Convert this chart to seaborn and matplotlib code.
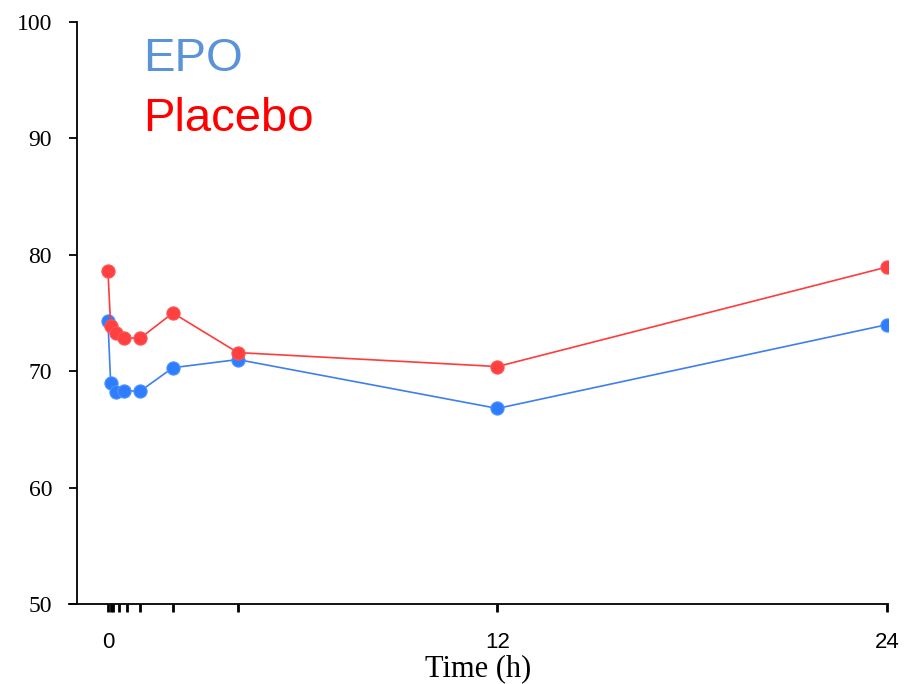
import matplotlib
matplotlib.use("Agg")
import matplotlib.pyplot as plt
import seaborn as sns
import pandas as pd

time_h = [0, 0.083, 0.25, 0.5, 1, 2, 4, 12, 24]
epo = [74.3, 69.0, 68.2, 68.3, 68.3, 70.3, 71.0, 66.8, 74.0]
placebo = [78.6, 73.9, 73.3, 72.85, 72.85, 75.0, 71.6, 70.4, 78.95]
groups = ["EPO", "Placebo"]
xticks = [0, 0.083, 0.167, 0.33, 0.58, 1, 2, 4, 12, 24]
xticklabels = ["0", "", "", "", "", "", "", "", "12", "24"]
yticks = [50, 60, 70, 80, 90, 100]

df = pd.DataFrame({
    "time": time_h * 2,
    "value": epo + placebo,
    "group": [groups[0]] * len(epo) + [groups[1]] * len(placebo),
})

sns.set_style("white")
fig = plt.figure(figsize=(9.14, 6.84), dpi=100)
ax = fig.add_axes([69 / 914, 1 - 604 / 684, (888 - 69) / 914, (604 - 22) / 684])

line_colors = {"EPO": "#3d7ff0", "Placebo": "#ff3b3b"}
sns.lineplot(data=df, x="time", y="value", hue="group", palette=line_colors,
             marker="o", markersize=9.5, markeredgewidth=0.8,
             linewidth=1.2, legend=False, ax=ax, sort=False)
for ln, mc, ec in zip(ax.lines, ["#2f7dff", "#ff4040"], ["#4d94ff", "#ff5555"]):
    ln.set_markerfacecolor(mc)
    ln.set_markeredgecolor(ec)

ax.set_xlim(-1.2, 24.03)
ax.set_ylim(50, 100)
ax.spines["left"].set_position(("axes", 8 / 819))
for s in ["top", "right"]:
    ax.spines[s].set_visible(False)
for s in ["left", "bottom"]:
    ax.spines[s].set_color("black")
    ax.spines[s].set_linewidth(1.3)

ax.set_yticks(yticks)
ax.set_yticklabels([str(v) for v in yticks], fontfamily="Liberation Serif", fontsize=17,
                   color="black")
ax.set_xticks(xticks)
ax.set_xticklabels(xticklabels, fontfamily="Liberation Sans", fontsize=16, color="black")
ax.tick_params(axis="y", direction="out", length=6, width=1.3, pad=12, left=True,
               color="black")
ax.tick_params(axis="x", direction="out", length=6, width=2, pad=14, bottom=True,
               color="black")

ax.set_xlabel("Time (h)", fontfamily="Liberation Serif", fontsize=22, labelpad=1,
              color="black")
ax.set_ylabel("")

fig.text(143 / 914, 1 - 37 / 684, "EPO", color="#5b93d8", fontfamily="Liberation Sans",
         fontsize=34, va="top", ha="left")
fig.text(143 / 914, 1 - 97 / 684, "Placebo", color="#ff0000", fontfamily="Liberation Sans",
         fontsize=34, va="top", ha="left")

fig.savefig("out.png", dpi=100)
